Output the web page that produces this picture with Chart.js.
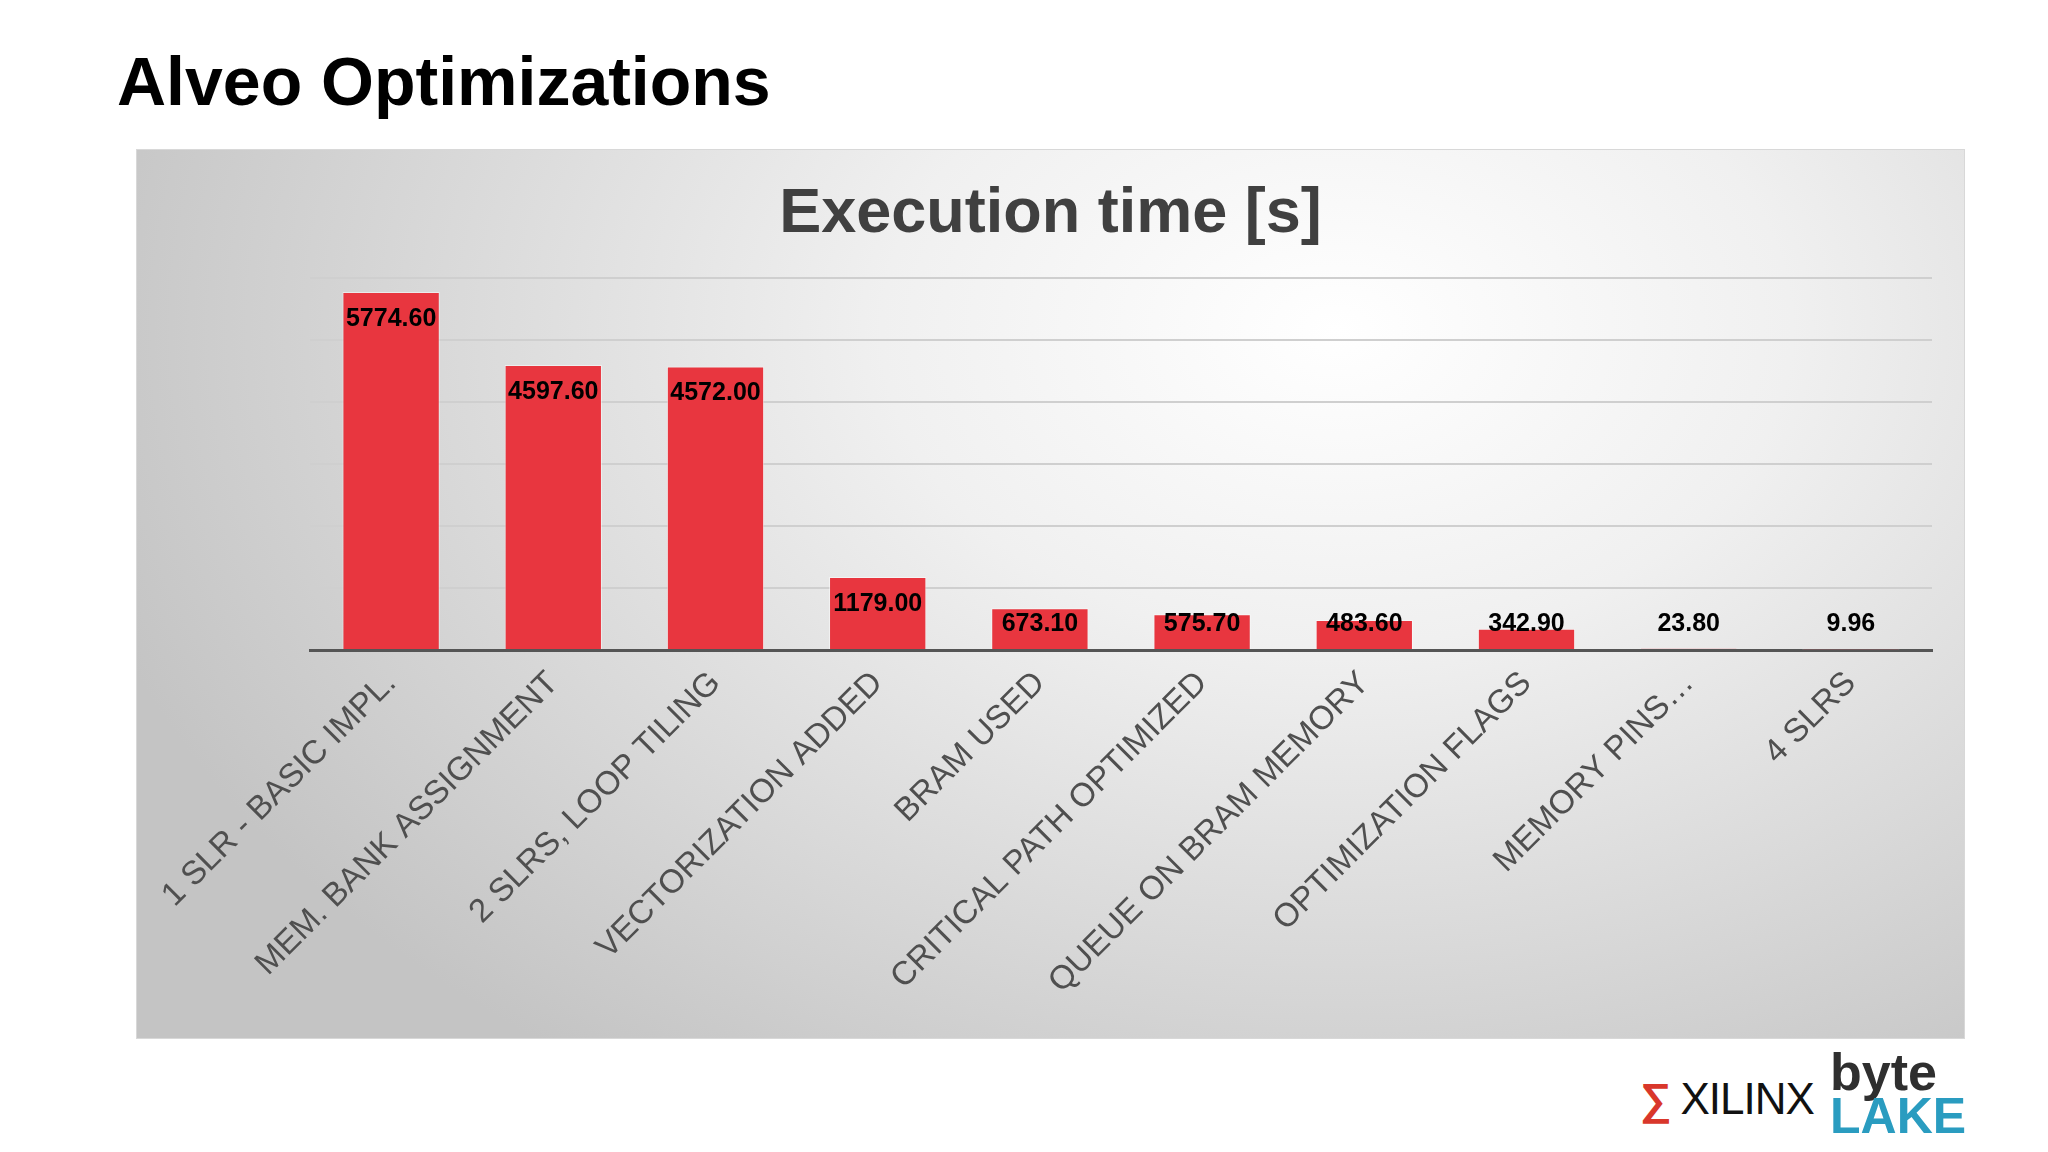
<!DOCTYPE html>
<html>
<head>
<meta charset="utf-8">
<script src="https://cdn.jsdelivr.net/npm/chart.js@4"></script>
<style>
  body { margin: 0; width: 2048px; height: 1152px; background: #fff; font-family: "Liberation Sans", Arial, sans-serif; position: relative; overflow: hidden; }
  #title { position: absolute; left: 117px; top: 42px; font-size: 68px; font-weight: bold; color: #000; }
  #panel { position: absolute; left: 136px; top: 149px; width: 1827px; height: 888px;
    background: radial-gradient(ellipse 1300px 900px at 1200px 180px, #ffffff 0%, #f0f0f0 35%, #c4c4c4 100%);
    border: 1px solid #d8d8d8; }
  #ctitle { position: absolute; left: 0; width: 1827px; top: 24px; text-align: center; font-size: 63px; font-weight: bold; color: #404040; }
  #chart { position: absolute; left: 0; top: 0; }
  #xilinx { position: absolute; left: 1640px; top: 1074px; font-size: 44px; color: #111; letter-spacing: -1px; }
  #xilinx .mark { color: #d9372b; font-weight: bold; margin-right: 10px; }
  #byte { position: absolute; left: 1830px; top: 1050px; font-weight: bold; line-height: 44px; }
  #byte .b { font-size: 52px; color: #2f2f2f; }
  #byte .l { font-size: 50px; color: #2a9cc0; }
</style>
</head>
<body>
<div id="title">Alveo Optimizations</div>
<div id="panel"><div id="ctitle">Execution time [s]</div><canvas id="chart" width="1827" height="888"></canvas></div>
<div id="xilinx"><span class="mark">&#x2211;</span>XILINX</div>
<div id="byte"><div class="b">byte</div><div class="l">LAKE</div></div>
<script>
// ===== Data =====
const categories = ["1 SLR - BASIC IMPL.", "MEM. BANK ASSIGNMENT", "2 SLRS, LOOP TILING", "VECTORIZATION ADDED",
  "BRAM USED", "CRITICAL PATH OPTIMIZED", "QUEUE ON BRAM MEMORY", "OPTIMIZATION FLAGS", "MEMORY PINS…", "4 SLRS"];
const execTimes = [5774.60, 4597.60, 4572.00, 1179.00, 673.10, 575.70, 483.60, 342.90, 23.80, 9.96];

// value labels near the top of each bar
const barLabels = {
  id: "barLabels",
  afterDatasetsDraw(chart) {
    const ctx = chart.ctx;
    const meta = chart.getDatasetMeta(0);
    const axisY = chart.scales.y.getPixelForValue(0);
    ctx.save();
    ctx.font = "bold 25px 'Liberation Sans', Arial";
    ctx.fillStyle = "#000";
    ctx.textAlign = "center";
    ctx.textBaseline = "middle";
    meta.data.forEach((bar, i) => {
      let y = Math.min(bar.y + 27, axisY - 26);
      ctx.fillText(execTimes[i].toFixed(2), bar.x, y);
    });
    ctx.restore();
  }
};

new Chart(document.getElementById("chart"), {
  type: "bar",
  data: {
    labels: categories,
    datasets: [{
      data: execTimes,
      backgroundColor: "#e8363f",
      borderColor: "rgba(255,255,255,0.5)",
      borderWidth: 1,
      categoryPercentage: 1,
      barPercentage: 0.6
    }]
  },
  options: {
    responsive: false,
    animation: false,
    layout: { padding: { left: 173, right: 32, top: 128, bottom: 0 } },
    plugins: {
      legend: { display: false },
      tooltip: { enabled: false }
    },
    scales: {
      x: {
        grid: { display: false },
        border: { color: "#555", width: 3 },
        ticks: {
          color: "#4f4f4f",
          font: { size: 33, family: "'Liberation Sans', Arial" },
          minRotation: 45, maxRotation: 45, autoSkip: false, padding: 6
        },
        afterFit(scale) { scale.height = 388; }
      },
      y: {
        min: 0, max: 6000,
        ticks: { display: false, stepSize: 1000 },
        grid: { color: "#cfcfcf", lineWidth: 2, drawTicks: false },
        border: { display: false }
      }
    }
  },
  plugins: [barLabels]
});
</script>
</body>
</html>
